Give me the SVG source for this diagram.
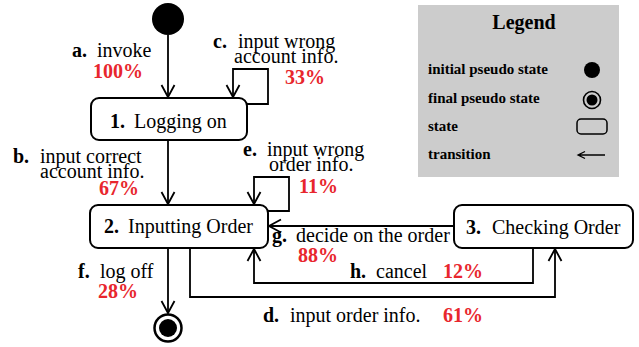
<svg xmlns="http://www.w3.org/2000/svg" width="639" height="347" viewBox="0 0 639 347">
<style>
text{font-family:"Liberation Serif","Times New Roman",serif;font-size:20px;fill:#000}
.b{font-weight:bold}
.r{font-weight:bold;fill:#e8262d}
.box{fill:#fff;stroke:#000;stroke-width:2}
.c{fill:none;stroke:#000;stroke-width:1.8}
.lg{font-weight:bold;font-size:15px}
</style>
<defs>
<marker id="ah" markerUnits="userSpaceOnUse" markerWidth="16" markerHeight="16" viewBox="-14 -8 16 16" refX="0" refY="0" orient="auto">
<path d="M-12,-6.5 L0,0 L-12,6.5" fill="none" stroke="#000" stroke-width="1.8"/>
</marker>
</defs>
<rect width="639" height="347" fill="#fff"/>
<g id="legend">
<rect x="418" y="5" width="201" height="172" fill="#cccccc"/>
<text x="524" y="29" text-anchor="middle" class="b" style="font-size:20px">Legend</text>
<text x="428" y="74" class="lg">initial pseudo state</text>
<circle cx="592" cy="70" r="8" fill="#000"/>
<text x="428" y="103" class="lg">final pseudo state</text>
<circle cx="592" cy="100" r="8.5" fill="none" stroke="#000" stroke-width="1.6"/>
<circle cx="592" cy="100" r="5.5" fill="#000"/>
<text x="428" y="131" class="lg">state</text>
<rect x="577" y="119" width="30" height="15" rx="4" fill="none" stroke="#000" stroke-width="1.5"/>
<text x="428" y="159" class="lg">transition</text>
<path d="M605,155 H578 M585,151.5 L578,155 L585,158.5" fill="none" stroke="#000" stroke-width="1.3"/>
</g>
<g id="connectors">
<path class="c" d="M168,35 V97" marker-end="url(#ah)"/>
<path class="c" d="M247,104 H268 V69 H233 V97" marker-end="url(#ah)"/>
<path class="c" d="M168,140 V204" marker-end="url(#ah)"/>
<path class="c" d="M268,211 H289 V177 H254 V204" marker-end="url(#ah)"/>
<path class="c" d="M454,226 H269" marker-end="url(#ah)"/>
<path class="c" d="M533,248 V283 H254 V249" marker-end="url(#ah)"/>
<path class="c" d="M190,248 V297 H555 V249" marker-end="url(#ah)"/>
<path class="c" d="M168,248 V313" marker-end="url(#ah)"/>
</g>
<g id="initial">
<circle cx="168" cy="19" r="16" fill="#000"/>
</g>
<g id="final">
<circle cx="168" cy="328" r="13.5" fill="#fff" stroke="#000" stroke-width="2.5"/>
<circle cx="168" cy="328" r="9" fill="#000"/>
</g>
<g id="s1">
<rect class="box" x="91" y="98" width="156" height="42" rx="8"/>
<text x="110" y="128"><tspan class="b">1.</tspan><tspan x="134">Logging on</tspan></text>
</g>
<g id="s2">
<rect class="box" x="90" y="205" width="178" height="43" rx="8"/>
<text x="104" y="233"><tspan class="b">2.</tspan><tspan x="128">Inputting Order</tspan></text>
</g>
<g id="s3">
<rect class="box" x="454" y="205" width="179" height="43" rx="8"/>
<text x="466" y="234"><tspan class="b">3.</tspan><tspan x="492">Checking Order</tspan></text>
</g>
<g id="labels">
<text x="72" y="57"><tspan class="b">a.</tspan><tspan x="97">invoke</tspan></text>
<text x="93" y="78" class="r">100%</text>
<text x="213" y="48"><tspan class="b">c.</tspan><tspan x="238">input wrong</tspan></text>
<text x="234" y="63">account info.</text>
<text x="285" y="84" class="r">33%</text>
<text x="13" y="163"><tspan class="b">b.</tspan><tspan x="40">input correct</tspan></text>
<text x="40" y="178">account info.</text>
<text x="99" y="195" class="r">67%</text>
<text x="243" y="156"><tspan class="b">e.</tspan><tspan x="267">input wrong</tspan></text>
<text x="269" y="171">order info.</text>
<text x="299" y="193" class="r">11%</text>
<text x="272" y="242"><tspan class="b">g.</tspan><tspan x="296">decide on the order</tspan></text>
<text x="298" y="262" class="r">88%</text>
<text x="350" y="278"><tspan class="b">h.</tspan><tspan x="376">cancel</tspan></text>
<text x="443" y="278" class="r">12%</text>
<text x="263" y="322"><tspan class="b">d.</tspan><tspan x="290">input order info.</tspan></text>
<text x="443" y="322" class="r">61%</text>
<text x="78" y="278"><tspan class="b">f.</tspan><tspan x="100">log off</tspan></text>
<text x="98" y="298" class="r">28%</text>
</g>
</svg>
